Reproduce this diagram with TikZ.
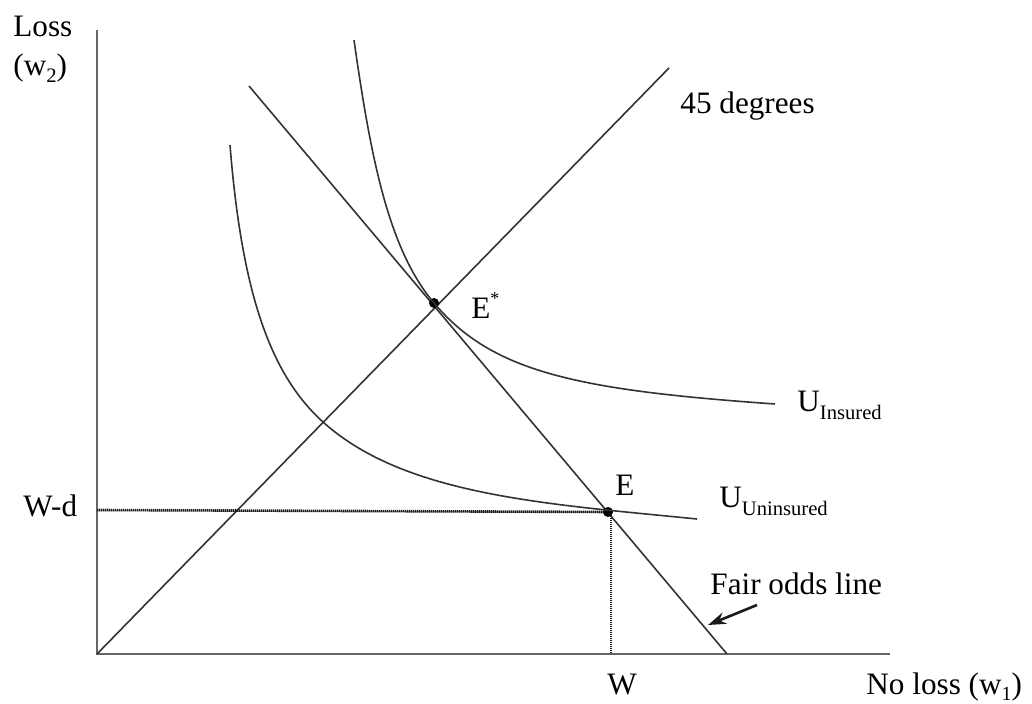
\documentclass[tikz,border=0pt]{standalone}
\usepackage{fontspec}
\setmainfont{Liberation Serif}
\usetikzlibrary{arrows.meta}
\begin{document}
\begin{tikzpicture}[x=0.5pt,y=-0.5pt,
  curve/.style={line width=0.8pt, draw=black!80},
  axis/.style={line width=0.9pt, draw=black!60},
  guide/.style={line width=1.3pt, dash pattern=on 0.7pt off 0.3pt, draw=black!90},
  lbl/.style={font=\fontsize{15.6}{19}\selectfont, inner sep=0pt, anchor=base west},
  dot/.style={circle, fill=black, inner sep=0pt, minimum size=5pt}]
\useasboundingbox (0,0) rectangle (1032,704);
\coordinate (O) at (97,654);
\coordinate (ytop) at (97,30);
\coordinate (xend) at (890,654);
\coordinate (d45) at (669,68);
\coordinate (f1) at (249,86);
\coordinate (f2) at (727,654);
\coordinate (wd) at (97,510);
\coordinate (Etop) at (611,512);
\coordinate (Wx) at (611,654);
\coordinate (a1) at (757,605);
\coordinate (a2) at (708,625);
\coordinate (ins0) at (354,40);
\coordinate (ins1) at (775,404);
\coordinate (un0) at (230,145);
\coordinate (unm) at (323,422);
\coordinate (un1) at (697,519);
% axes
\draw[axis] (ytop) -- (O) -- (xend);
% 45 degree line and fair odds line
\draw[curve] (O) -- (d45);
\draw[curve] (f1) -- (f2);
% guides
\draw[guide] (wd) -- (Etop);
\draw[guide] (Etop) -- (Wx);
% points
\node[dot] (Estar) at (434,303) {};
\node[dot] (E) at (608,512) {};
% indifference curves
\draw[curve] (ins0) .. controls (371,160) and (389,250) .. (Estar.center)
  .. controls (492,372) and (576,390) .. (ins1);
\draw[curve] (un0) .. controls (242,295) and (271,375) .. (unm)
  .. controls (405,496) and (548,504) .. (un1);
% labels
\node[lbl] (loss) at (13,37) {Loss};
\node[lbl] (w2) at (13,76) {(w\raisebox{-3.5pt}{\fontsize{10.3}{12}\selectfont 2})};
\node[lbl] (deg) at (680,114) {45 degrees};
\node[lbl] (Estarl) at (471,319) {E\raisebox{7pt}{\fontsize{9}{10}\selectfont *}};
\node[lbl] (Uins) at (797,412) {U\raisebox{-4pt}{\fontsize{10.3}{12}\selectfont Insured}};
\node[lbl] (El) at (615,496) {E};
\node[lbl] (Uunins) at (719,508) {U\raisebox{-4pt}{\fontsize{10.3}{12}\selectfont Uninsured}};
\node[lbl] (wdl) at (23,517) {W-d};
\node[lbl] (fair) at (710,595) {Fair odds line};
\node[lbl] (Wl) at (607,694) {W};
\node[lbl] (noloss) at (866,694) {No loss (w\raisebox{-3pt}{\fontsize{10}{12}\selectfont 1})};
% arrow
\draw[-{Stealth[length=9pt,width=6pt]}, line width=1.3pt, black!90] (a1) -- (a2);
\end{tikzpicture}
\end{document}
